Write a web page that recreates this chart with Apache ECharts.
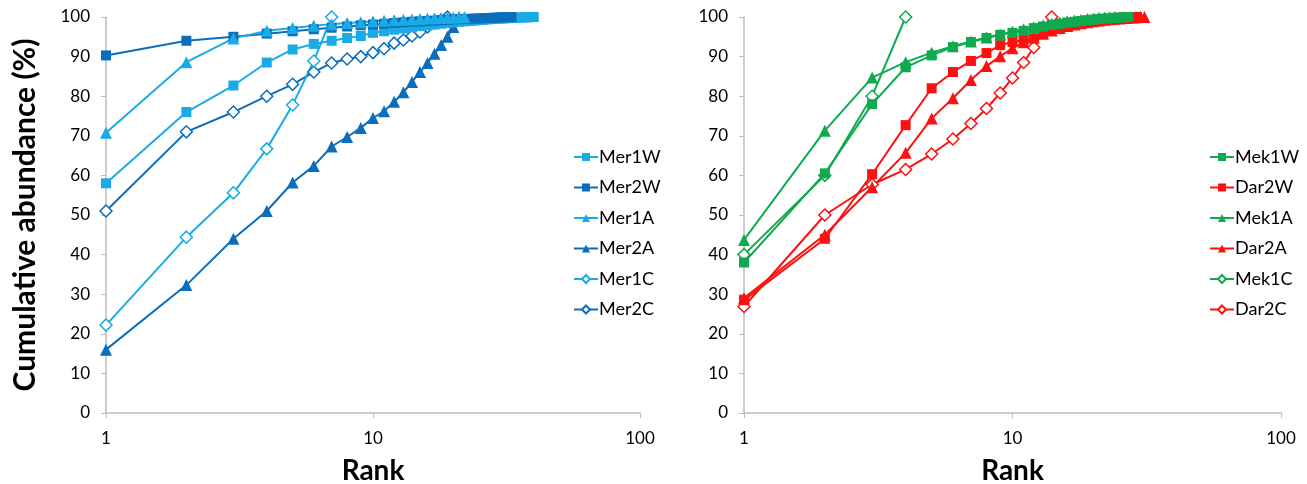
<!DOCTYPE html>
<html>
<head>
<meta charset="utf-8">
<script src="https://cdn.jsdelivr.net/npm/echarts@6/dist/echarts.min.js"></script>
<style>
  html, body { margin: 0; padding: 0; background: #fff; }
  #main { width: 1307px; height: 484px; }
</style>
</head>
<body>
<div id="main"></div>
<script>
// cumulative abundance (%) by rank, rank = index + 1
const mer1W = [58, 76, 82.7, 88.5, 91.8, 93.2, 94, 94.7, 95.2, 96,
  96.4, 96.8, 97.1, 97.4, 97.7, 97.9, 98.1, 98.3, 98.5, 98.7,
  98.8, 98.9, 99.0, 99.1, 99.2, 99.3, 99.4, 99.5, 99.55, 99.6,
  99.65, 99.7, 99.75, 99.8, 99.85, 99.88, 99.91, 99.94, 99.97, 100]
const mer2W = [90.3, 94, 95, 95.8, 96.4, 96.9, 97.3, 97.6, 97.9, 98.1,
  98.3, 98.5, 98.65, 98.8, 98.9, 99.0, 99.1, 99.2, 99.3, 99.4,
  99.45, 99.5, 99.55, 99.6, 99.65, 99.7, 99.75, 99.8, 99.85, 99.9,
  99.94, 99.97, 100]
const mer1A = [70.8, 88.6, 94.6, 96.5, 97.2, 97.8, 98.2, 98.5, 98.7, 98.9,
  99.05, 99.2, 99.3, 99.4, 99.5, 99.6, 99.7, 99.75, 99.8, 99.87, 99.94, 100]
const mer2A = [16, 32.3, 44, 51, 58.2, 62.4, 67.3, 69.7, 72, 74.5,
  76.2, 78.6, 81, 83.6, 86.1, 88.4, 90.7, 92.9, 95, 97.5, 100]
const mer1C = [22.2, 44.4, 55.6, 66.7, 77.8, 88.9, 100]
const mer2C = [51, 71, 76, 80, 83, 86.1, 88.4, 89.4, 90, 91,
  92, 93.4, 94.2, 95.2, 96.2, 97.5, 98.5, 99.2, 100]

const mek1W = [38, 60.5, 78, 87.3, 90.3, 92.4, 93.7, 94.7, 95.5, 96,
  96.5, 97.2, 97.6, 98, 98.3, 98.6, 98.8, 99, 99.2, 99.35,
  99.5, 99.6, 99.7, 99.8, 99.87, 99.94, 100]
const dar2W = [28.5, 44, 60.3, 72.7, 82, 86.1, 88.9, 90.9, 92.9, 93.7,
  94.2, 94.6, 95.8, 97, 97.6, 98, 98.3, 98.6, 98.8, 99,
  99.2, 99.35, 99.5, 99.6, 99.7, 99.8, 99.88, 99.95, 100]
const mek1A = [43.7, 71.3, 84.7, 88.6, 91, 92.6, 93.8, 94.8, 95.6, 96.3,
  96.9, 97.4, 97.9, 98.3, 98.6, 98.9, 99.1, 99.3, 99.5, 99.65,
  99.8, 99.9, 99.95, 100]
const dar2A = [29, 45, 57, 65.7, 74.4, 79.5, 84.1, 87.6, 90.1, 92.1,
  93.6, 94.8, 95.8, 96.6, 97.2, 97.7, 98.1, 98.4, 98.7, 98.9,
  99.1, 99.3, 99.45, 99.55, 99.65, 99.75, 99.83, 99.9, 99.95, 99.98, 100]
const mek1C = [40, 60, 80, 100]
const dar2C = [26.9, 50, 57.7, 61.5, 65.4, 69.2, 73.1, 76.9, 80.8, 84.6,
  88.5, 92.3, 96.2, 100]

const leftNames = ['Mer1W', 'Mer2W', 'Mer1A', 'Mer2A', 'Mer1C', 'Mer2C']
const rightNames = ['Mek1W', 'Dar2W', 'Mek1A', 'Dar2A', 'Mek1C', 'Dar2C']

const LIGHT = '#1AABE6'
const DARK = '#0A6EBD'
const GREEN = '#0FAA4F'
const RED = '#FF1010'
const FONT = 'Lato, "Open Sans", sans-serif'

const toPairs = arr => arr.map((v, i) => [i + 1, v])

function mkSeries (name, data, color, shape, idx) {
  const open = shape === 'diamond'
  return {
    name,
    type: 'line',
    xAxisIndex: idx,
    yAxisIndex: idx,
    data: toPairs(data),
    symbol: shape,
    symbolSize: shape === 'rect' ? 10 : 12,
    showAllSymbol: true,
    lineStyle: { color, width: 2 },
    itemStyle: open
      ? { color: '#fff', borderColor: color, borderWidth: 1.5 }
      : { color },
    emphasis: { disabled: true },
    animation: false
  }
}

const axisLineStyle = { lineStyle: { color: '#BDBDBD', width: 1.5 } }

function xAx (idx) {
  return {
    type: 'log',
    logBase: 10,
    min: 1,
    max: 100,
    gridIndex: idx,
    name: 'Rank',
    nameLocation: 'middle',
    nameGap: 44,
    nameTextStyle: { fontFamily: FONT, fontSize: 28, fontWeight: 'bold', color: '#000' },
    axisLine: axisLineStyle,
    axisTick: { show: true, length: 5, lineStyle: { color: '#BDBDBD' } },
    minorTick: { show: false },
    splitLine: { show: false },
    axisLabel: { fontFamily: FONT, fontSize: 17, color: '#000', margin: 17 }
  }
}

function yAx (idx) {
  const ax = {
    type: 'value',
    min: 0,
    max: 100,
    interval: 10,
    gridIndex: idx,
    axisLine: { show: true, ...axisLineStyle },
    axisTick: { show: true, length: 5, lineStyle: { color: '#BDBDBD' } },
    splitLine: { show: false },
    axisLabel: { fontFamily: FONT, fontSize: 17, color: '#000', margin: 16 }
  }
  if (idx === 0) {
    ax.name = 'Cumulative abundance (%)'
    ax.nameLocation = 'middle'
    ax.nameGap = 66
    ax.nameTextStyle = { fontFamily: FONT, fontSize: 30, fontWeight: 'bold', color: '#000' }
  }
  return ax
}

function legendAt (left, names) {
  return {
    data: names,
    orient: 'vertical',
    left,
    top: 143,
    itemGap: 12.5,
    itemWidth: 24,
    itemHeight: 10,
    textStyle: { fontFamily: FONT, fontSize: 18, color: '#000', padding: [0, 0, 0, -4] },
    selectedMode: false
  }
}

const chart = echarts.init(document.getElementById('main'))
chart.setOption({
  animation: false,
  grid: [
    { left: 106, right: 667, top: 17, bottom: 71, containLabel: false, outerBoundsMode: 'none' },
    { left: 744, right: 26, top: 17, bottom: 71, containLabel: false, outerBoundsMode: 'none' }
  ],
  xAxis: [xAx(0), xAx(1)],
  yAxis: [yAx(0), yAx(1)],
  legend: [legendAt(568, leftNames), legendAt(1204, rightNames)],
  series: [
    mkSeries('Mer2A', mer2A, DARK, 'triangle', 0),
    mkSeries('Mer2C', mer2C, DARK, 'diamond', 0),
    mkSeries('Mer1C', mer1C, LIGHT, 'diamond', 0),
    mkSeries('Mer1W', mer1W, LIGHT, 'rect', 0),
    mkSeries('Mer2W', mer2W, DARK, 'rect', 0),
    mkSeries('Mer1A', mer1A, LIGHT, 'triangle', 0),
    mkSeries('Dar2C', dar2C, RED, 'diamond', 1),
    mkSeries('Dar2A', dar2A, RED, 'triangle', 1),
    mkSeries('Dar2W', dar2W, RED, 'rect', 1),
    mkSeries('Mek1C', mek1C, GREEN, 'diamond', 1),
    mkSeries('Mek1A', mek1A, GREEN, 'triangle', 1),
    mkSeries('Mek1W', mek1W, GREEN, 'rect', 1)
  ]
})
</script>
</body>
</html>
